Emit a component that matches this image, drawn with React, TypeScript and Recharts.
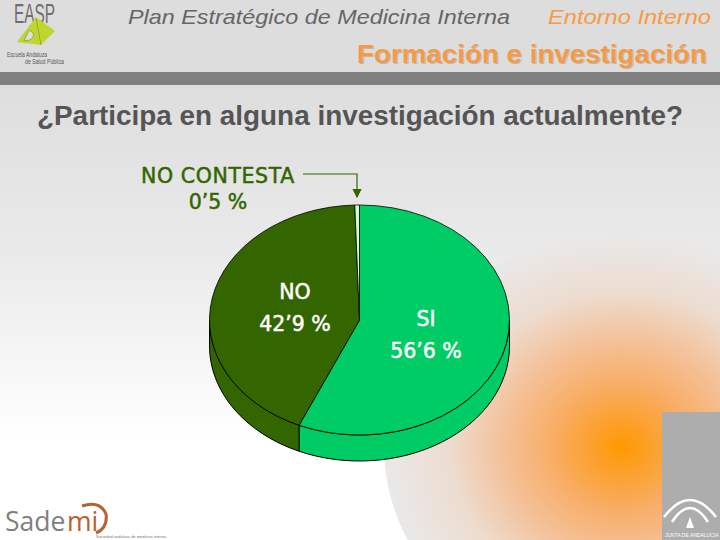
import { PieChart, Pie } from 'recharts'

const categories = ['SI', 'NO', 'NO CONTESTA']
const percents = [56.6, 42.9, 0.5]
const colors = ['#00CC66', '#336600', '#CCFFCC']

const pieData = categories.map((name, i) => ({ name, value: percents[i], fill: colors[i] }))

// the original is a tilted 3D pie, so squash the circle and add a wall
const SQUASH = 115 / 150
const DEPTH = 26

function formatPct(value: number): string {
  return `${String(value).replace('.', '’')} %`
}

function TiltedSector(props: any) {
  const { cx, cy, outerRadius: r, startAngle, endAngle, fill } = props
  const ry = r * SQUASH
  const pt = (a: number, dy = 0) => {
    const rad = (a * Math.PI) / 180
    return `${cx + r * Math.cos(rad)} ${cy - ry * Math.sin(rad) + dy}`
  }
  const large = startAngle - endAngle > 180 ? 1 : 0
  const top = `M ${cx} ${cy} L ${pt(startAngle)} A ${r} ${ry} 0 ${large} 1 ${pt(endAngle)} Z`

  // only the front half (0 to -180) shows a wall
  const s = Math.min(startAngle, 0)
  const e = Math.max(endAngle, -180)
  const wall =
    s > e
      ? `M ${pt(s)} A ${r} ${ry} 0 0 1 ${pt(e)} L ${pt(e, DEPTH)} A ${r} ${ry} 0 0 0 ${pt(s, DEPTH)} Z`
      : null

  return (
    <g>
      {wall && <path d={wall} fill={fill} stroke="#000" strokeWidth={1} />}
      <path d={top} fill={fill} stroke="#000" strokeWidth={0.8} />
    </g>
  )
}

const labelFont = '"DejaVu Sans", sans-serif'
const sans = '"Liberation Sans", sans-serif'

function Labels() {
  return (
    <svg width={720} height={540} style={{ position: 'absolute', left: 0, top: 0 }}>
      <defs>
        <marker id="tip" markerWidth="8" markerHeight="8" refX="4" refY="7" orient="0">
          <path d="M0 0 L8 0 L4 8 Z" fill="#336600" />
        </marker>
      </defs>
      <text x={128} y={24} fontFamily={sans} fontStyle="italic" fontSize={21} fill="#666666" textLength={382} lengthAdjust="spacingAndGlyphs">
        Plan Estratégico de Medicina Interna
      </text>
      <text x={548} y={24} fontFamily={sans} fontStyle="italic" fontSize={21} fill="#F59A45" textLength={163} lengthAdjust="spacingAndGlyphs">
        Entorno Interno
      </text>
      <text x={358} y={64} fontFamily={sans} fontWeight="bold" fontSize={26} fill="#B9B9B9" textLength={350} lengthAdjust="spacingAndGlyphs">
        Formación e investigación
      </text>
      <text x={357} y={63} fontFamily={sans} fontWeight="bold" fontSize={26} fill="#F59A45" textLength={350} lengthAdjust="spacingAndGlyphs">
        Formación e investigación
      </text>
      <text x={37} y={125} fontFamily={sans} fontWeight="bold" fontSize={27} fill="#555555" textLength={646} lengthAdjust="spacingAndGlyphs">
        ¿Participa en alguna investigación actualmente?
      </text>

      <g fontFamily={labelFont} fontSize={20.5} textAnchor="middle" strokeWidth={0.5}>
        <text x={218} y={183} fill="#336600" stroke="#336600" letterSpacing={0.6}>{categories[2]}</text>
        <text x={218} y={209} fill="#336600" stroke="#336600">{formatPct(percents[2])}</text>
        <text x={295} y={299} fill="#fff" stroke="#fff">{categories[1]}</text>
        <text x={295} y={331} fill="#fff" stroke="#fff">{formatPct(percents[1])}</text>
        <text x={426} y={326} fill="#fff" stroke="#fff">{categories[0]}</text>
        <text x={426} y={358} fill="#fff" stroke="#fff">{formatPct(percents[0])}</text>
      </g>
      <path d="M303 174 H357 V197" fill="none" stroke="#336600" strokeWidth={1.2} markerEnd="url(#tip)" />
    </svg>
  )
}

function Backdrop() {
  return (
    <svg width={720} height={540} style={{ position: 'absolute', left: 0, top: 0 }}>
      <defs>
        <linearGradient id="page" x1="0" y1="0" x2="0" y2="1">
          <stop offset="0.14" stopColor="#DDDDDD" />
          <stop offset="0.47" stopColor="#EAEAEA" />
          <stop offset="0.82" stopColor="#FFFFFF" />
        </linearGradient>
        <radialGradient id="glow">
          <stop offset="0" stopColor="#FF9900" />
          <stop offset="0.12" stopColor="#FDA02A" />
          <stop offset="0.3" stopColor="#F8AE68" />
          <stop offset="0.5" stopColor="#F4C19A" />
          <stop offset="0.72" stopColor="#EDDCCF" />
          <stop offset="1" stopColor="#E9E9E9" />
        </radialGradient>
      </defs>
      <rect width={720} height={540} fill="url(#page)" />
      <ellipse cx={622} cy={447} rx={238} ry={214} fill="url(#glow)" />
      <rect x={0} y={72} width={720} height={13} fill="#808080" />
      <rect x={662} y={412} width={58} height={128} fill="#ADADAD" />

      {/* Junta logo */}
      <g fill="none" stroke="#fff">
        <path d="M664 517 Q690 483 716 517" strokeWidth={2.5} />
        <path d="M672 522 Q690 494 708 522" strokeWidth={2.5} />
      </g>
      <path d="M686 528 L690 517 L694 528 Z" fill="#fff" />
      <text x={665} y={537} fontFamily={sans} fontSize={5} fill="#fff">
        JUNTA DE ANDALUCIA
      </text>

      {/* EASP logo */}
      <text x={14} y={23} fontFamily={sans} fontSize={27} fill="#6E6E6E" textLength={41} lengthAdjust="spacingAndGlyphs">
        EASP
      </text>
      <path d="M36 17 L55 31 L41 45 L17 42 Z" fill="#BFD62F" />
      <path d="M36 18 L41 45 M29 30 Q38 34 30 40 L24 41 Z" fill="#DDDDDD" stroke="#8FA020" strokeWidth={0.8} />
      <text x={7} y={57} fontFamily={sans} fontSize={6.5} fill="#555555" textLength={40} lengthAdjust="spacingAndGlyphs">Escuela Andaluza</text>
      <text x={25} y={64} fontFamily={sans} fontSize={6.5} fill="#555555" textLength={39} lengthAdjust="spacingAndGlyphs">de Salud Pública</text>

      {/* Sademi logo */}
      <text x={5} y={531} fontFamily="Open Sans" fontSize={26.5} fill="#808080">Sade</text>
      <text x={67} y={531} fontFamily="Open Sans" fontSize={26.5} fill="#B5622D">mi</text>
      <path d="M82 506 Q100 500 106 514 Q108 528 96 533" fill="none" stroke="#B5622D" strokeWidth={3} />
      <text x={96} y={538} fontFamily={sans} fontSize={4} fill="#777777">Sociedad andaluza de medicina interna</text>
    </svg>
  )
}

export default function App() {
  return (
    <div style={{ position: 'absolute', left: 0, top: 0, width: 720, height: 540, overflow: 'hidden' }}>
      <Backdrop />
      <div style={{ position: 'absolute', left: 0, top: 0 }}>
        <PieChart width={720} height={540} margin={{ top: 0, right: 0, bottom: 0, left: 0 }}>
          <Pie
            data={pieData}
            dataKey="value"
            nameKey="name"
            cx={359.5}
            cy={320}
            innerRadius={0}
            outerRadius={150}
            startAngle={90}
            endAngle={-270}
            shape={TiltedSector}
            isAnimationActive={false}
          />
        </PieChart>
      </div>
      <Labels />
    </div>
  )
}
